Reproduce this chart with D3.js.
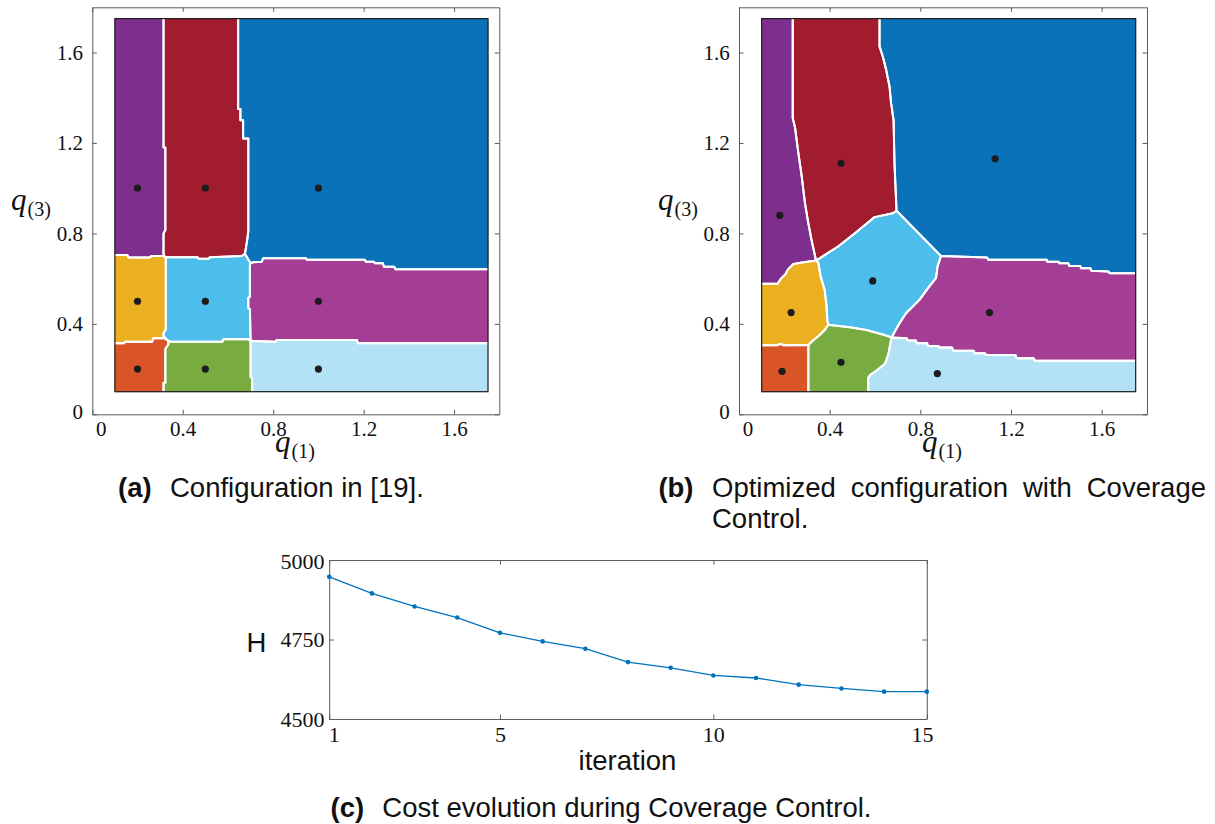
<!DOCTYPE html>
<html>
<head>
<meta charset="utf-8">
<script src="https://cdn.jsdelivr.net/npm/d3@7"></script>
<style>
  html, body { margin: 0; padding: 0; background: #fff; }
  svg { display: block; }
  .ax .tick text { font-family: "Liberation Serif", "Times New Roman", serif; fill: #111; }
  .ax .tick line, .ax .domain { stroke: #5a5a5a; }
  .cap { font-family: "Liberation Sans", Arial, sans-serif; font-size: 27.5px; fill: #111; }
</style>
</head>
<body>
<svg id="fig" width="1215" height="824"></svg>
<script>
// ---------------- data ----------------
// Partition plots: coverage cells in the (q1, q3) plane, read as polygons.
const planeTicks = [0, 0.4, 0.8, 1.2, 1.6];
const planeLimits = [0, 1.8];
const regionBounds = [0.1, 1.75];

// cell order: upper-left, upper-middle, upper-right, mid-left, centre, mid-right,
// lower-left, lower-middle, lower-right
const cellColors = ["#7E2F8E", "#A21C2F", "#0B72BA", "#EBB020", "#4DBEEC",
                    "#A33E94", "#D95426", "#78AC41", "#B3E1F6"];

// (a) initial configuration
const sitesA = [[0.2, 1.0], [0.5, 1.0], [1.0, 1.0], [0.2, 0.5], [0.5, 0.5],
                [1.0, 0.5], [0.2, 0.2], [0.5, 0.2], [1.0, 0.2]];
const cellA1 = [[0.1,1.75],[0.315,1.75],[0.315,1.18],[0.323,1.18],[0.323,0.815],[0.315,0.80],[0.315,0.71],[0.318,0.70],[0.26,0.70],[0.255,0.694],[0.16,0.694],[0.155,0.705],[0.1,0.705]];
const cellA2 = [[0.315,1.75],[0.645,1.75],[0.645,1.35],[0.655,1.35],[0.655,1.30],[0.667,1.30],[0.667,1.22],[0.69,1.22],[0.69,0.81],[0.685,0.77],[0.675,0.71],[0.66,0.70],[0.52,0.695],[0.515,0.688],[0.47,0.688],[0.465,0.695],[0.325,0.695],[0.318,0.70],[0.315,0.71],[0.315,0.80],[0.323,0.815],[0.323,1.18],[0.315,1.18]];
const cellA3 = [[0.645,1.75],[1.75,1.75],[1.75,0.642],[1.34,0.642],[1.335,0.653],[1.29,0.653],[1.285,0.668],[1.25,0.668],[1.245,0.675],[1.21,0.675],[1.205,0.683],[0.95,0.683],[0.945,0.69],[0.755,0.69],[0.75,0.675],[0.71,0.672],[0.70,0.668],[0.675,0.71],[0.685,0.77],[0.69,0.81],[0.69,1.22],[0.667,1.22],[0.667,1.30],[0.655,1.30],[0.655,1.35],[0.645,1.35]];
const cellA4 = [[0.1,0.705],[0.155,0.705],[0.16,0.694],[0.255,0.694],[0.26,0.70],[0.318,0.70],[0.325,0.69],[0.325,0.375],[0.315,0.36],[0.315,0.345],[0.335,0.325],[0.32,0.336],[0.27,0.336],[0.265,0.321],[0.145,0.321],[0.14,0.314],[0.1,0.314]];
const cellA5 = [[0.318,0.70],[0.325,0.695],[0.465,0.695],[0.47,0.688],[0.515,0.688],[0.52,0.695],[0.66,0.70],[0.675,0.71],[0.70,0.668],[0.697,0.66],[0.697,0.52],[0.69,0.515],[0.69,0.47],[0.697,0.465],[0.70,0.325],[0.69,0.332],[0.58,0.332],[0.575,0.321],[0.35,0.321],[0.335,0.325],[0.315,0.345],[0.315,0.36],[0.325,0.375],[0.325,0.69]];
const cellA6 = [[0.70,0.668],[0.71,0.672],[0.75,0.675],[0.755,0.69],[0.945,0.69],[0.95,0.683],[1.205,0.683],[1.21,0.675],[1.245,0.675],[1.25,0.668],[1.285,0.668],[1.29,0.653],[1.335,0.653],[1.34,0.642],[1.75,0.642],[1.75,0.314],[1.175,0.314],[1.17,0.329],[0.815,0.329],[0.81,0.321],[0.70,0.325],[0.697,0.465],[0.69,0.47],[0.69,0.515],[0.697,0.52],[0.697,0.66]];
const cellA7 = [[0.1,0.1],[0.315,0.1],[0.315,0.14],[0.323,0.14],[0.323,0.29],[0.337,0.31],[0.335,0.325],[0.32,0.336],[0.27,0.336],[0.265,0.321],[0.145,0.321],[0.14,0.314],[0.1,0.314]];
const cellA8 = [[0.315,0.1],[0.707,0.1],[0.707,0.16],[0.70,0.165],[0.70,0.325],[0.69,0.332],[0.58,0.332],[0.575,0.321],[0.35,0.321],[0.335,0.325],[0.337,0.31],[0.323,0.29],[0.323,0.14],[0.315,0.14]];
const cellA9 = [[0.707,0.1],[1.75,0.1],[1.75,0.314],[1.175,0.314],[1.17,0.329],[0.815,0.329],[0.81,0.321],[0.70,0.325],[0.70,0.165],[0.707,0.16]];

// (b) optimized configuration
const sitesB = [[0.18, 0.88], [0.45, 1.11], [1.13, 1.13], [0.23, 0.45], [0.59, 0.59],
                [1.105, 0.45], [0.19, 0.19], [0.45, 0.23], [0.875, 0.18]];
const cellB1 = [[0.1,1.75],[0.237,1.75],[0.237,1.31],[0.247,1.27],[0.262,1.155],[0.277,1.05],[0.291,0.934],[0.306,0.845],[0.32,0.771],[0.34,0.68],[0.285,0.672],[0.24,0.665],[0.215,0.64],[0.205,0.62],[0.185,0.60],[0.17,0.577],[0.1,0.577]];
const cellB2 = [[0.237,1.75],[0.62,1.75],[0.62,1.627],[0.635,1.58],[0.65,1.52],[0.664,1.45],[0.671,1.376],[0.682,1.30],[0.686,1.11],[0.695,0.90],[0.679,0.889],[0.598,0.872],[0.51,0.80],[0.437,0.742],[0.379,0.705],[0.34,0.68],[0.32,0.771],[0.306,0.845],[0.291,0.934],[0.277,1.05],[0.262,1.155],[0.247,1.27],[0.237,1.31]];
const cellB3 = [[0.62,1.75],[1.75,1.75],[1.75,0.624],[1.635,0.624],[1.63,0.632],[1.555,0.635],[1.55,0.646],[1.51,0.646],[1.505,0.656],[1.457,0.656],[1.453,0.668],[1.413,0.668],[1.41,0.675],[1.36,0.675],[1.358,0.683],[1.10,0.683],[1.095,0.693],[0.891,0.70],[0.695,0.90],[0.686,1.11],[0.682,1.30],[0.671,1.376],[0.664,1.45],[0.65,1.52],[0.635,1.58],[0.62,1.627]];
const cellB4 = [[0.1,0.577],[0.17,0.577],[0.185,0.60],[0.205,0.62],[0.215,0.64],[0.24,0.665],[0.285,0.672],[0.34,0.68],[0.35,0.67],[0.36,0.61],[0.378,0.55],[0.386,0.48],[0.39,0.41],[0.395,0.398],[0.38,0.375],[0.35,0.345],[0.33,0.33],[0.306,0.307],[0.195,0.305],[0.19,0.31],[0.175,0.31],[0.17,0.305],[0.1,0.305]];
const cellB5 = [[0.34,0.68],[0.379,0.705],[0.437,0.742],[0.51,0.80],[0.598,0.872],[0.679,0.889],[0.695,0.90],[0.891,0.70],[0.876,0.653],[0.869,0.602],[0.839,0.565],[0.796,0.506],[0.737,0.447],[0.708,0.403],[0.673,0.34],[0.642,0.351],[0.562,0.373],[0.489,0.385],[0.401,0.395],[0.395,0.398],[0.39,0.41],[0.386,0.48],[0.378,0.55],[0.36,0.61],[0.35,0.67]];
const cellB6 = [[0.891,0.70],[1.095,0.693],[1.10,0.683],[1.358,0.683],[1.36,0.675],[1.41,0.675],[1.413,0.668],[1.453,0.668],[1.457,0.656],[1.505,0.656],[1.51,0.646],[1.55,0.646],[1.555,0.635],[1.63,0.632],[1.635,0.624],[1.75,0.624],[1.75,0.237],[1.305,0.237],[1.30,0.248],[1.225,0.248],[1.22,0.262],[1.09,0.262],[1.085,0.27],[1.04,0.27],[1.035,0.281],[0.945,0.281],[0.94,0.295],[0.885,0.295],[0.88,0.302],[0.835,0.302],[0.83,0.314],[0.785,0.314],[0.78,0.326],[0.745,0.326],[0.74,0.336],[0.673,0.34],[0.708,0.403],[0.737,0.447],[0.796,0.506],[0.839,0.565],[0.869,0.602],[0.876,0.653]];
const cellB7 = [[0.1,0.1],[0.306,0.1],[0.306,0.307],[0.195,0.305],[0.19,0.31],[0.175,0.31],[0.17,0.305],[0.1,0.305]];
const cellB8 = [[0.306,0.1],[0.57,0.1],[0.57,0.16],[0.578,0.174],[0.61,0.196],[0.645,0.225],[0.66,0.27],[0.673,0.34],[0.642,0.351],[0.562,0.373],[0.489,0.385],[0.401,0.395],[0.395,0.398],[0.38,0.375],[0.35,0.345],[0.33,0.33],[0.306,0.307]];
const cellB9 = [[0.57,0.1],[1.75,0.1],[1.75,0.237],[1.305,0.237],[1.30,0.248],[1.225,0.248],[1.22,0.262],[1.09,0.262],[1.085,0.27],[1.04,0.27],[1.035,0.281],[0.945,0.281],[0.94,0.295],[0.885,0.295],[0.88,0.302],[0.835,0.302],[0.83,0.314],[0.785,0.314],[0.78,0.326],[0.745,0.326],[0.74,0.336],[0.673,0.34],[0.66,0.27],[0.645,0.225],[0.61,0.196],[0.578,0.174],[0.57,0.16]];

const cellsA = [cellA1, cellA2, cellA3, cellA4, cellA5, cellA6, cellA7, cellA8, cellA9];
const cellsB = [cellB1, cellB2, cellB3, cellB4, cellB5, cellB6, cellB7, cellB8, cellB9];

// (c) cost H per Coverage Control iteration
const iterations = [1, 2, 3, 4, 5, 6, 7, 8, 9, 10, 11, 12, 13, 14, 15];
const costH = [4947, 4895, 4854, 4819, 4771, 4744, 4721, 4679, 4661, 4637, 4629, 4608, 4596, 4586, 4586];
const iterTicks = [1, 5, 10, 15];
const costTicks = [4500, 4750, 5000];

// ---------------- drawing ----------------
const svg = d3.select("#fig");
svg.append("rect").attr("width", 1215).attr("height", 824).attr("fill", "#fff");

const near = (a, b) => Math.abs(a - b) < 1e-9;

// Split a closed cell outline into the runs that are not on the outer boundary,
// so only the shared (interior) borders get the white outline.
function interiorRuns(poly) {
  const [lo, hi] = regionBounds;
  const n = poly.length;
  const onOuter = (a, b) => [0, 1].some(k =>
    (near(a[k], lo) && near(b[k], lo)) || (near(a[k], hi) && near(b[k], hi)));
  const flags = poly.map((p, i) => onOuter(p, poly[(i + 1) % n]));
  if (!flags.some(f => f)) return [[...poly, poly[0]]];
  const start = flags.findIndex(f => f);
  const runs = [];
  let cur = null;
  for (let k = 1; k <= n; k++) {
    const i = (start + k) % n;
    if (flags[i]) { if (cur) { runs.push(cur); cur = null; } }
    else { if (!cur) cur = [poly[i]]; cur.push(poly[(i + 1) % n]); }
  }
  if (cur) runs.push(cur);
  return runs;
}

function partitionPanel(cells, sites, px, py, labels) {
  const x = d3.scaleLinear().domain(planeLimits).range(px);
  const y = d3.scaleLinear().domain(planeLimits).range(py);
  const g = svg.append("g");
  const line = d3.line().x(d => x(d[0])).y(d => y(d[1]));

  g.selectAll("path.cell").data(cells).join("path")
    .attr("class", "cell")
    .attr("d", d => line(d) + "Z")
    .attr("fill", (d, i) => cellColors[i])
    .attr("stroke", (d, i) => cellColors[i])
    .attr("stroke-width", 0.6)
    .attr("stroke-linejoin", "round");

  const runs = cells.flatMap(interiorRuns);
  g.selectAll("path.edge").data(runs).join("path")
    .attr("class", "edge")
    .attr("d", line)
    .attr("fill", "none")
    .attr("stroke", "#fff")
    .attr("stroke-width", 2)
    .attr("stroke-linejoin", "round")
    .attr("stroke-linecap", "round");

  const [lo, hi] = regionBounds;
  g.append("rect")
    .attr("x", x(lo)).attr("y", y(hi))
    .attr("width", x(hi) - x(lo)).attr("height", y(lo) - y(hi))
    .attr("fill", "none").attr("stroke", "#1e1e1e").attr("stroke-width", 1.2);

  g.selectAll("circle.site").data(sites).join("circle")
    .attr("class", "site")
    .attr("cx", d => x(d[0])).attr("cy", d => y(d[1]))
    .attr("r", 3.6).attr("fill", "#1c1c1c");

  const fmt = d => d === 0 ? "0" : d3.format(".1f")(d);
  const fs = "21px";
  const bottom = g.append("g").attr("class", "ax")
    .attr("transform", `translate(0,${py[0]})`)
    .call(d3.axisBottom(x).tickValues(planeTicks).tickFormat(fmt)
      .tickSizeInner(-4.5).tickSizeOuter(0).tickPadding(6.5));
  bottom.selectAll("text").style("font-size", fs)
    .attr("transform", d => d === 0 ? "translate(8.5,0)" : null);
  const left = g.append("g").attr("class", "ax")
    .attr("transform", `translate(${px[0]},0)`)
    .call(d3.axisLeft(y).tickValues(planeTicks).tickFormat(fmt)
      .tickSizeInner(-4.5).tickSizeOuter(0).tickPadding(9.3));
  left.selectAll("text").style("font-size", fs)
    .attr("transform", d => d === 0 ? "translate(0,-2.6)" : null);
  g.append("g").attr("class", "ax")
    .attr("transform", `translate(0,${py[1]})`)
    .call(d3.axisTop(x).tickValues(planeTicks).tickFormat("")
      .tickSizeInner(-4.5).tickSizeOuter(0));
  g.append("g").attr("class", "ax")
    .attr("transform", `translate(${px[1]},0)`)
    .call(d3.axisRight(y).tickValues(planeTicks).tickFormat("")
      .tickSizeInner(-4.5).tickSizeOuter(0));

  // axis labels q_(1), q_(3)
  const qLabel = (tx, ty, sub) => {
    const t = g.append("text").attr("x", tx).attr("y", ty)
      .attr("font-family", "'Liberation Serif', 'Times New Roman', serif").attr("fill", "#111");
    t.append("tspan").attr("font-style", "italic").attr("font-size", "31px").text("q");
    t.append("tspan").attr("font-size", "20px").attr("dy", 6).attr("dx", 1).text(sub);
  };
  qLabel(labels.x1[0], labels.x1[1], "(1)");
  qLabel(labels.x3[0], labels.x3[1], "(3)");
}

partitionPanel(cellsA, sitesA, [92.3, 499.3], [414.3, 7.3], { x1: [275, 452], x3: [11, 210] });
partitionPanel(cellsB, sitesB, [739, 1147], [414.3, 7.3], { x1: [922, 452], x3: [658, 210] });

// ---- (c) cost evolution ----
{
  const x = d3.scaleLinear().domain([1, 15]).range([329.2, 926.8]);
  const y = d3.scaleLinear().domain([4500, 5000]).range([719, 560]);
  const g = svg.append("g");
  const fs = "22px";

  const bottom = g.append("g").attr("class", "ax").attr("transform", "translate(0,719)")
    .call(d3.axisBottom(x).tickValues(iterTicks).tickFormat(d3.format("d"))
      .tickSizeInner(-4.5).tickSizeOuter(0).tickPadding(7));
  bottom.selectAll("text").style("font-size", fs)
    .attr("transform", d => d === 1 ? "translate(4.6,0)" : d === 15 ? "translate(-4.8,0)" : null);
  const left = g.append("g").attr("class", "ax").attr("transform", "translate(329.2,0)")
    .call(d3.axisLeft(y).tickValues(costTicks).tickFormat(d3.format("d"))
      .tickSizeInner(-4.5).tickSizeOuter(0).tickPadding(4.6));
  left.selectAll("text").style("font-size", fs)
    .attr("transform", d => d === 5000 ? "translate(0,1.5)" : null);
  g.append("g").attr("class", "ax").attr("transform", "translate(0,560)")
    .call(d3.axisTop(x).tickValues(iterTicks).tickFormat("")
      .tickSizeInner(-4.5).tickSizeOuter(0));
  g.append("g").attr("class", "ax").attr("transform", "translate(926.8,0)")
    .call(d3.axisRight(y).tickValues(costTicks).tickFormat("")
      .tickSizeInner(-4.5).tickSizeOuter(0));

  const pts = iterations.map((it, i) => [it, costH[i]]);
  g.append("path").datum(pts)
    .attr("d", d3.line().x(d => x(d[0])).y(d => y(d[1])))
    .attr("fill", "none").attr("stroke", "#0072BD").attr("stroke-width", 1.3);
  g.selectAll("circle").data(pts).join("circle")
    .attr("cx", d => x(d[0])).attr("cy", d => y(d[1]))
    .attr("r", 2.3).attr("fill", "#0072BD");

  g.append("text").attr("class", "cap").attr("x", 256.5).attr("y", 652)
    .attr("text-anchor", "middle").text("H");
  g.append("text").attr("class", "cap").attr("x", 627.5).attr("y", 770)
    .attr("text-anchor", "middle").text("iteration");
}

// ---- captions ----
function caption(tag, x, y, restX, rest) {
  svg.append("text").attr("class", "cap").attr("x", x).attr("y", y)
    .attr("font-weight", "bold").text(tag);
  svg.append("text").attr("class", "cap").attr("x", restX).attr("y", y).text(rest);
}
caption("(a)", 118, 497, 170, "Configuration in [19].");
caption("(c)", 330.6, 817, 382.3, "Cost evolution during Coverage Control.");

// (b) is a justified two-line caption
svg.append("text").attr("class", "cap").attr("x", 658.4).attr("y", 497)
  .attr("font-weight", "bold").text("(b)");
{
  const words = ["Optimized", "configuration", "with", "Coverage"];
  const left = 712, right = 1206;
  const nodes = words.map(w => svg.append("text").attr("class", "cap").attr("y", 497).text(w));
  const widths = nodes.map(n => n.node().getComputedTextLength());
  const gap = (right - left - d3.sum(widths)) / (words.length - 1);
  let cx = left;
  nodes.forEach((n, i) => { n.attr("x", cx); cx += widths[i] + gap; });
  svg.append("text").attr("class", "cap").attr("x", left).attr("y", 528).text("Control.");
}
</script>
</body>
</html>
